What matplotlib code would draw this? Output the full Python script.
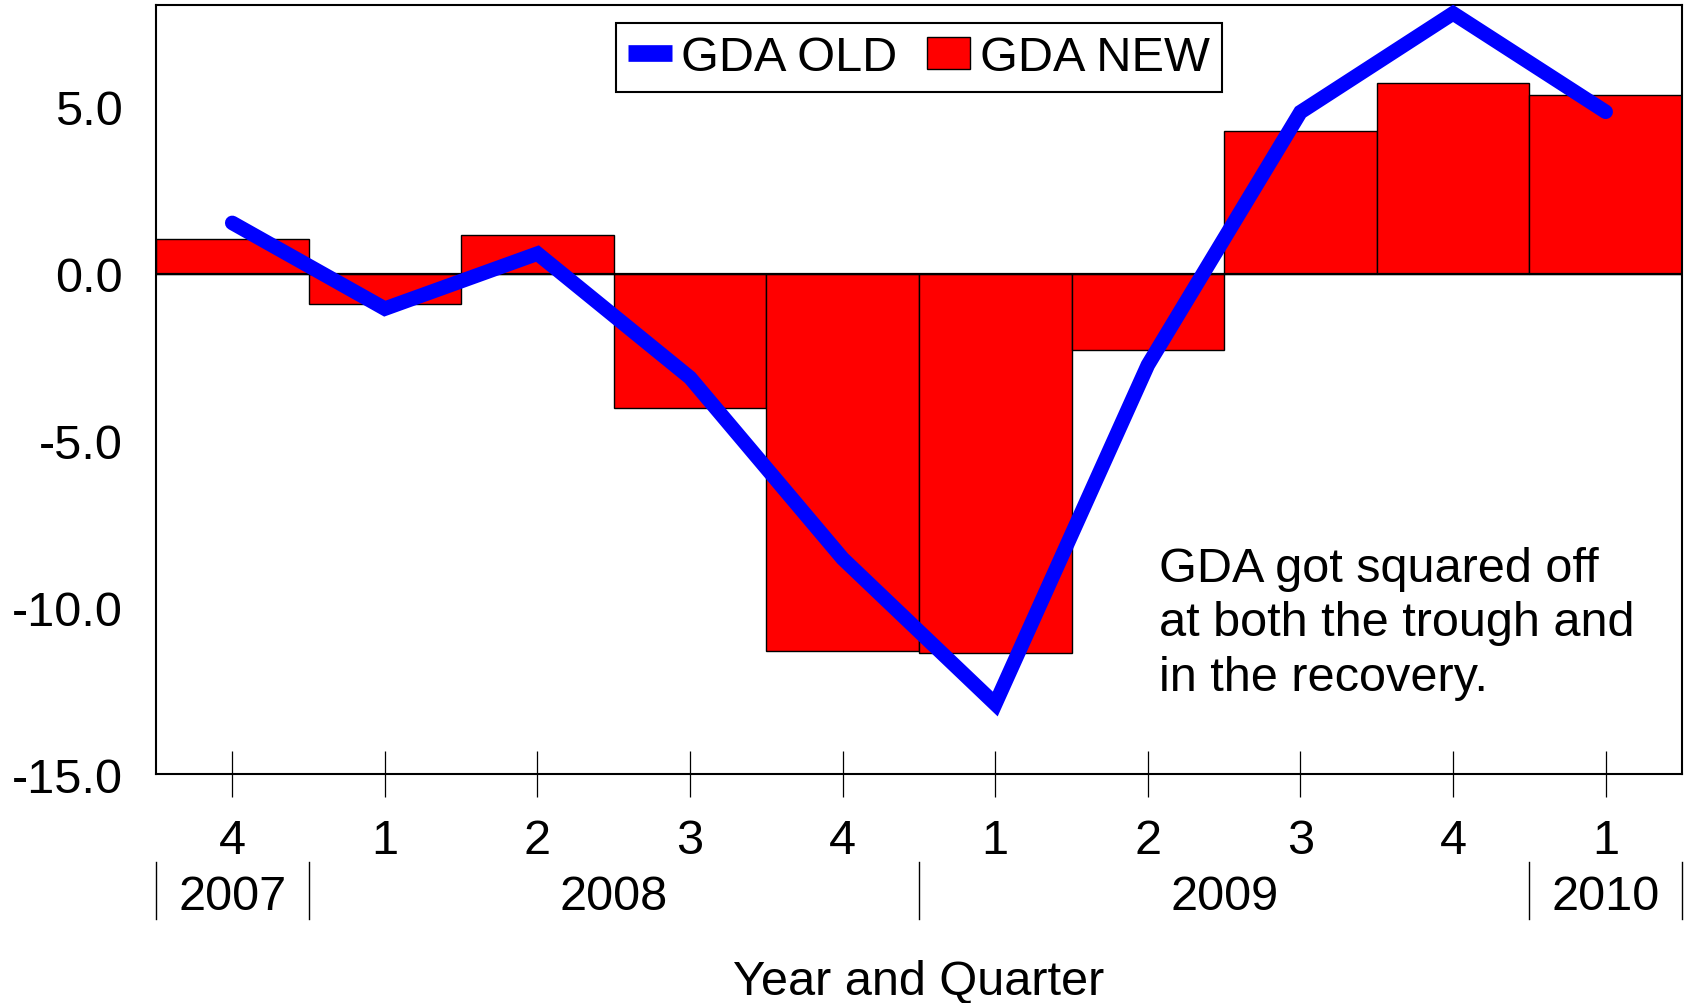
import matplotlib
matplotlib.use("Agg")
import matplotlib.pyplot as plt
import matplotlib.transforms as mtransforms
from matplotlib.lines import Line2D
from matplotlib.patches import Patch

#---------- data ----------

quarters = ['4', '1', '2', '3', '4', '1', '2', '3', '4', '1']
gda_new = [1.03, -0.90, 1.15, -4.03, -11.32, -11.38, -2.28, 4.27, 5.71, 5.35]
gda_old = [1.52, -1.05, 0.60, -3.12, -8.54, -12.90, -2.74, 4.84, 7.80, 4.85]

years = ['2007', '2008', '2009', '2010']
year_centers = [0, 2.5, 6.5, 9]
year_breaks = [-0.5, 0.5, 4.5, 8.5, 9.5]

note = "GDA got squared off\nat both the trough and\nin the recovery."

#---------- figure ----------

plt.rcParams['font.family'] = ['Liberation Sans', 'DejaVu Sans']
FS = 35

fig = plt.figure(figsize=(16.84, 10.04), dpi=100)
ax = fig.add_axes([0.0926, 0.228, 0.9062, 0.766])

x = list(range(len(quarters)))

# bars for the new series
ax.bar(x, gda_new, width=1.0, color='#ff0000', edgecolor='black', linewidth=1.0, zorder=2)
ax.axhline(0, color='black', linewidth=1.6, zorder=3)

# thick line for the old series
ax.plot(x, gda_old, color='#0000ff', linewidth=10.5, solid_capstyle='round',
        solid_joinstyle='miter', zorder=4)

ax.set_xlim(-0.5, 9.5)
ax.set_ylim(-15, 8.05)

ax.set_yticks([5, 0, -5, -10, -15])
ax.set_yticklabels(['5.0', '0.0', '-5.0', '-10.0', '-15.0'], fontsize=FS)
ax.tick_params(axis='y', length=0, pad=24)

ax.set_xticks(x)
ax.set_xticklabels(quarters, fontsize=FS)
ax.tick_params(axis='x', direction='inout', length=33, width=0.9, pad=15)

for s in ax.spines.values():
    s.set_linewidth(1.5)

# year row under the quarter labels
trans = mtransforms.blended_transform_factory(ax.transData, ax.transAxes)
for xb in year_breaks:
    ax.add_line(Line2D([xb, xb], [-0.114, -0.189], transform=trans, color='black',
                       linewidth=1.0, clip_on=False))
for xc, yr in zip(year_centers, years):
    ax.text(xc, -0.159, yr, transform=trans, ha='center', va='center', fontsize=FS)

ax.text(4.5, -0.270, 'Year and Quarter', transform=trans, ha='center', va='center', fontsize=FS)

# note
ax.text(6.07, -8.15, note, ha='left', va='top', fontsize=FS, linespacing=1.28, zorder=5)

# legend
handles = [Line2D([0], [0], color='#0000ff', linewidth=12, solid_capstyle='butt'),
           Patch(facecolor='#ff0000', edgecolor='black', linewidth=1.0)]
leg = ax.legend(handles, ['GDA OLD', 'GDA NEW'], loc='upper center', bbox_to_anchor=(0.5, 0.977),
                ncol=2, fontsize=FS, frameon=True, fancybox=False, edgecolor='black',
                framealpha=1, borderaxespad=0, handlelength=0.9, handleheight=0.63,
                handletextpad=0.2, columnspacing=0.6, borderpad=0.25)
leg.get_frame().set_linewidth(1.5)
leg.set_zorder(6)

fig.savefig('out.png', dpi=100)
